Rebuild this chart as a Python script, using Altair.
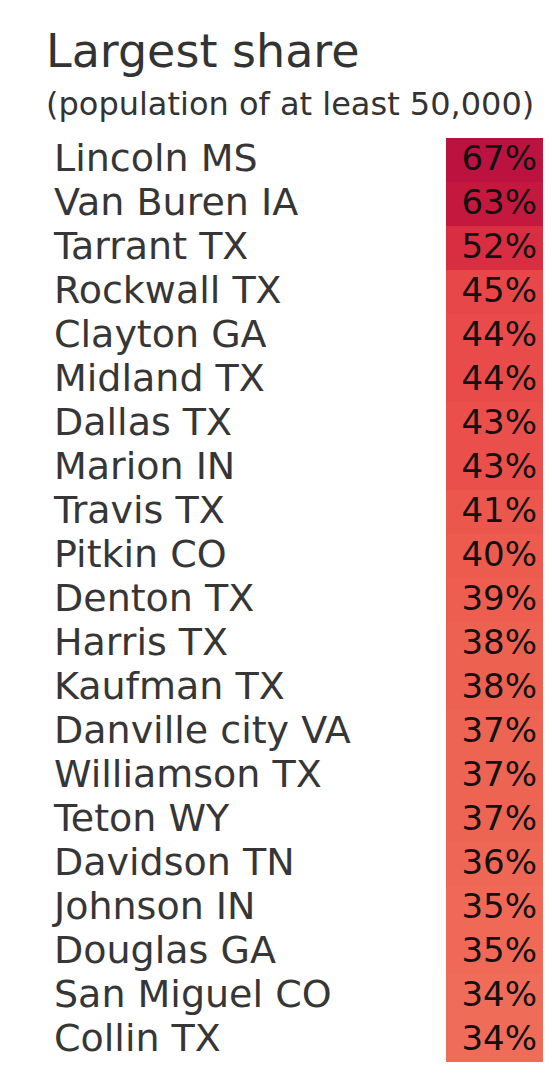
import altair as alt
import pandas as pd

counties = ["Lincoln MS", "Van Buren IA", "Tarrant TX", "Rockwall TX", "Clayton GA",
            "Midland TX", "Dallas TX", "Marion IN", "Travis TX", "Pitkin CO",
            "Denton TX", "Harris TX", "Kaufman TX", "Danville city VA", "Williamson TX",
            "Teton WY", "Davidson TN", "Johnson IN", "Douglas GA", "San Miguel CO", "Collin TX"]
shares = [67, 63, 52, 45, 44, 44, 43, 43, 41, 40, 39, 38, 38, 37, 37, 37, 36, 35, 35, 34, 34]

color_domain = [34, 40, 45, 52, 63, 67]
color_range = ["#ef6c58", "#ec5b4e", "#e8474a", "#d92d42", "#c5183f", "#bb1240"]

df = pd.DataFrame({"county": counties, "share": shares})
df["label"] = df["share"].astype(str) + "%"

FONT = "DejaVu Sans"

y = alt.Y("county:N", sort=counties, axis=None,
          scale=alt.Scale(paddingInner=0, paddingOuter=0))

base = alt.Chart(df)

cells = base.mark_rect(strokeWidth=0).encode(
    y=y,
    x=alt.value(438), x2=alt.value(535),
    color=alt.Color("share:Q", legend=None,
                    scale=alt.Scale(domain=color_domain, range=color_range)),
)

names = base.mark_text(align="left", baseline="middle", font=FONT, fontSize=38,
                       color="#363636").encode(
    y=y, x=alt.value(46), text="county:N")

pcts = base.mark_text(align="right", baseline="middle", font=FONT, fontSize=34,
                      color="#111111").encode(
    y=y, x=alt.value(529), text="label:N")

chart = alt.layer(cells, names, pcts).properties(
    width=536, height=924,
    background="white",
    title=alt.TitleParams(
        text="Largest share",
        subtitle="(population of at least 50,000)",
        anchor="start", dx=38, offset=16,
        font=FONT, fontSize=46, fontWeight="normal", color="#333333",
        subtitleFont=FONT, subtitleFontSize=32, subtitleColor="#333333",
        subtitlePadding=13,
    ),
    autosize=alt.AutoSizeParams(type="none"),
    padding={"left": 0, "top": 130, "right": 0, "bottom": 0},
).configure_view(strokeWidth=0)

chart.save("out.html", embed_options={"renderer": "svg", "actions": False})
